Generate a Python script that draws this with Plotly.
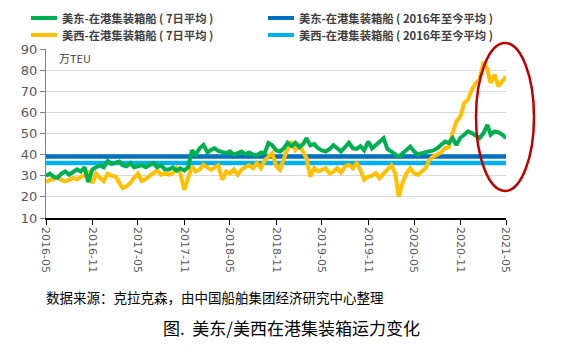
import plotly.graph_objects as go

# semi-monthly dates from 2016-05-01 to 2021-05-01
dates = []
for y in range(2016, 2022):
    for mth in range(1, 13):
        for d in (1, 16):
            s = f"{y}-{mth:02d}-{d:02d}"
            if "2016-05-01" <= s <= "2021-05-01":
                dates.append(s)

east_7d = [30, 31, 29.5, 29, 31, 32, 30.5, 31.5, 33, 32, 34, 27, 33, 34, 35, 34, 37, 35.5, 36, 36.7,
           35, 34.5, 36, 34, 34.5, 35, 34, 35, 36, 34, 35, 33, 33, 34, 32.5, 33.5, 32.5, 34, 42, 40,
           43, 44.6, 41, 42.3, 43, 41.7, 41, 40.7, 41.5, 40, 40.7, 41.5, 40.2, 41, 40, 39.7, 41, 40.7, 45.5, 44.4,
           42, 41.5, 43, 45.6, 44, 45.6, 43.5, 45, 47.8, 44.4, 45, 43, 42, 41.5, 42.7, 44.5, 43, 41.5, 43.5, 45.6,
           43, 42.7, 44, 42, 46.2, 43, 44.5, 46, 47.8, 42.7, 41.5, 40.6, 39, 40.5, 42.3, 43.8, 41.5, 40, 40.7, 41,
           41.5, 42, 43, 44.5, 46.2, 45.5, 47.8, 44.6, 48, 49.4, 51, 50.2, 49, 47.8, 50.2, 54.1, 49.4, 51, 50.5, 49.5,
           47.8]

west_7d = [27, 28, 28.4, 29.5, 28, 27.3, 28, 29, 28.3, 29.5, 30, 31.5, 26.5, 31, 29, 27.5, 31, 30, 29.6, 27,
           24.1, 25, 26.6, 29, 31, 27.5, 28.5, 30, 31, 32.5, 30.5, 31, 30.5, 31.2, 33.6, 31, 23.3, 29.6, 34.4, 32,
           33, 35.2, 34, 32.8, 34, 35, 28.1, 32, 31, 33, 30.4, 33, 34, 35, 33.6, 36, 33.6, 37.3, 39, 40.7,
           34.4, 32.8, 38, 43, 46.2, 42.3, 44.5, 41, 38.3, 29.6, 33.6, 32, 33, 33.6, 31, 32, 33.6, 31.5, 34.4, 35.2,
           33.5, 36, 32.8, 28.1, 29.6, 30, 31.2, 28.8, 31, 32.8, 35, 31.2, 20.1, 26.5, 31.2, 33.6, 31.2, 30.4, 32, 33.6,
           37.5, 39.1, 40, 41, 43, 43.5, 50.2, 55.7, 58, 64.4, 66, 70.7, 73.9, 75.5, 84, 80.2, 73.9, 77.8, 72.3, 74.6,
           77]

east_avg = 39.1
west_avg = 36.0

tick_labels = ["2016-05", "2016-11", "2017-05", "2017-11", "2018-05", "2018-11",
               "2019-05", "2019-11", "2020-05", "2020-11", "2021-05"]

names = ["美东-在港集装箱船 ( 7日平均 )", "美东-在港集装箱船 ( 2016年至今平均 )",
         "美西-在港集装箱船 ( 7日平均 )", "美西-在港集装箱船 ( 2016年至今平均 )"]

GREEN, DBLUE, YELLOW, LBLUE = "#00B050", "#0070C0", "#FFC000", "#00B0F0"
CJK = "Noto Sans CJK SC"

fig = go.Figure()
fig.add_trace(go.Scatter(x=[dates[0], dates[-1]], y=[east_avg, east_avg], mode="lines",
                         line=dict(color=DBLUE, width=4.5), name=names[1]))
fig.add_trace(go.Scatter(x=[dates[0], dates[-1]], y=[west_avg, west_avg], mode="lines",
                         line=dict(color=LBLUE, width=4.5), name=names[3]))
fig.add_trace(go.Scatter(x=dates, y=west_7d, mode="lines",
                         line=dict(color=YELLOW, width=4), name=names[2]))
fig.add_trace(go.Scatter(x=dates, y=east_7d, mode="lines",
                         line=dict(color=GREEN, width=4), name=names[0]))

L, R, T, B = 46, 59, 49, 130
PW, PH = 565 - L - R, 348 - T - B


def px_x(px):
    return (px - L) / PW


def px_y(py):
    return (348 - B - py) / PH


fig.update_layout(
    width=565, height=348,
    margin=dict(l=L, r=R, t=T, b=B),
    paper_bgcolor="white", plot_bgcolor="white",
    font=dict(family=CJK, color="#404040"),
    showlegend=False,
    xaxis=dict(type="date", range=["2016-05-01", "2021-05-01"],
               tickvals=[f"{t}-01" for t in tick_labels], ticktext=tick_labels,
               tickangle=90, tickfont=dict(size=11, color="#595959", family="DejaVu Sans"),
               showgrid=False, showline=True, linecolor="black", linewidth=1.5,
               ticks="outside", ticklen=5, tickcolor="black", zeroline=False),
    yaxis=dict(range=[10, 90], dtick=10, tickfont=dict(size=13, color="#595959", family="DejaVu Sans"),
               showgrid=True, gridcolor="#D9D9D9", gridwidth=1,
               showline=True, linecolor="#808080", linewidth=1,
               ticks="outside", ticklen=5, tickcolor="#808080", zeroline=False),
)

# manual legend (2 x 2)
legend_items = [(names[0], GREEN, 31, 18), (names[1], DBLUE, 268, 18),
                (names[2], YELLOW, 31, 35), (names[3], LBLUE, 268, 35)]
for text, col, x0, y0 in legend_items:
    fig.add_shape(type="line", xref="paper", yref="paper",
                  x0=px_x(x0), x1=px_x(x0 + 26), y0=px_y(y0), y1=px_y(y0),
                  line=dict(color=col, width=4))
    fig.add_annotation(text=f"<b>{text}</b>", xref="paper", yref="paper",
                       x=px_x(x0 + 29), y=px_y(y0), xanchor="left", yanchor="middle",
                       showarrow=False, font=dict(size=11.3, color="#404040", family=CJK))

fig.add_annotation(text="万TEU", xref="paper", yref="paper", x=px_x(57), y=px_y(58),
                   xanchor="left", yanchor="middle", showarrow=False,
                   font=dict(size=11, color="#404040", family=CJK))
fig.add_annotation(text="数据来源：克拉克森，由中国船舶集团经济研究中心整理", xref="paper", yref="paper",
                   x=px_x(44), y=px_y(297), xanchor="left", yanchor="middle", showarrow=False,
                   font=dict(size=13.5, color="black", family=CJK))
fig.add_annotation(text="图.\u00a0\u00a0美东/美西在港集装箱运力变化", xref="paper", yref="paper",
                   x=px_x(291), y=px_y(327), xanchor="center", yanchor="middle", showarrow=False,
                   font=dict(size=17, color="black", family=CJK))

# red ellipse highlighting the recent period
fig.add_shape(type="circle", xref="paper", yref="paper",
              x0=px_x(476), x1=px_x(534), y0=px_y(191), y1=px_y(43),
              line=dict(color="#C00000", width=2.5), layer="above")

fig.write_html("out.html")
